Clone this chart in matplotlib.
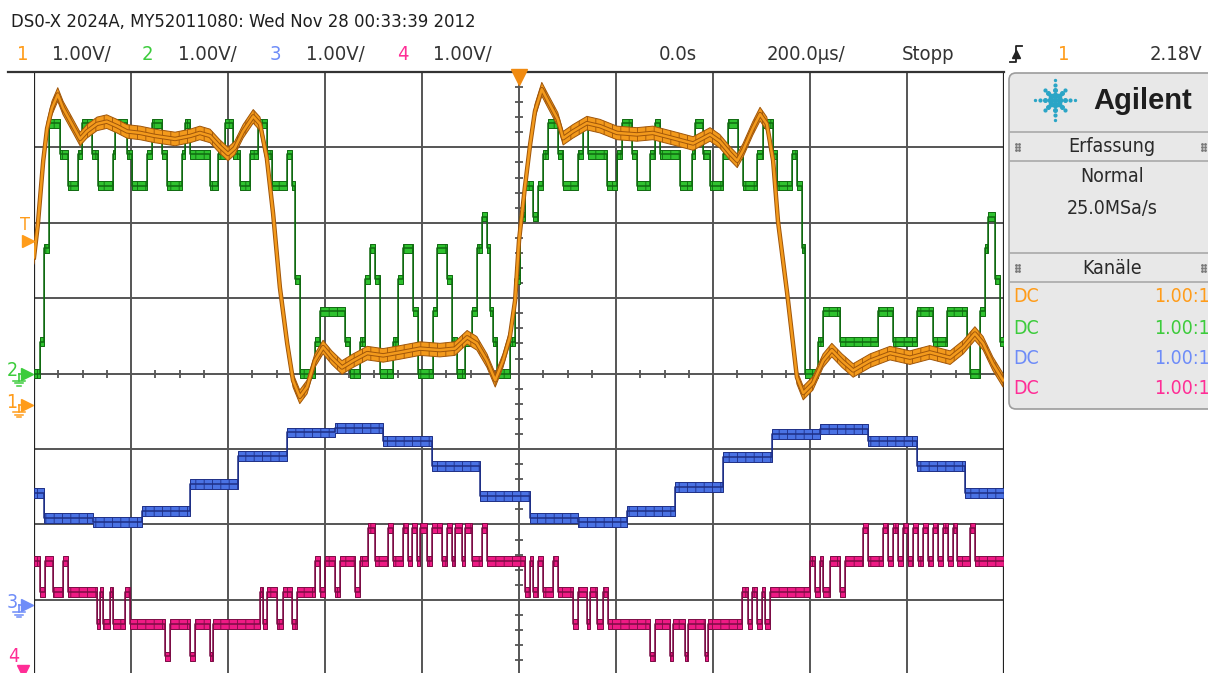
import numpy as np
import matplotlib
matplotlib.use("Agg")
import matplotlib.pyplot as plt
from matplotlib.patches import FancyBboxPatch
import matplotlib.patheffects as pe

W, H = 1208, 673

# ---- captured waveforms: time in us (trigger at 0), amplitude in V ----
# channel 1 (orange), analog
ch1_t = [-1000, -992, -981, -973, -963, -951, -940, -922, -905, -891, -870, -850, -829, -808,
         -781, -751, -709, -678, -658, -637, -617, -600, -586, -569, -548, -534, -520, -507,
         -493, -478, -466, -452, -437, -421, -404, -386, -365, -342, -313, -280, -245, -204,
         -163, -132, -107, -87, -66, -49, -33, -19, -8, 0, 12, 23, 33, 47, 60, 80, 91, 111,
         140, 167, 202, 243, 276, 318, 359, 394, 414, 435, 450, 462, 482, 497, 511, 524, 534,
         553, 573, 586, 606, 627, 645, 666, 689, 724, 765, 806, 847, 889, 916, 940, 957, 977, 998]
ch1_v = [1.96, 2.40, 3.24, 3.67, 3.94, 4.12, 3.94, 3.73, 3.53, 3.63, 3.73, 3.76, 3.70, 3.63,
         3.61, 3.57, 3.53, 3.57, 3.61, 3.57, 3.43, 3.33, 3.41, 3.63, 3.83, 3.73, 3.28, 2.54,
         1.56, 0.82, 0.33, 0.11, 0.24, 0.59, 0.77, 0.63, 0.50, 0.59, 0.69, 0.66, 0.70, 0.75,
         0.73, 0.75, 0.90, 0.82, 0.59, 0.33, 0.59, 0.90, 1.39, 2.18, 2.88, 3.46, 3.90, 4.19,
         4.03, 3.79, 3.54, 3.63, 3.74, 3.70, 3.61, 3.59, 3.61, 3.54, 3.47, 3.59, 3.50, 3.34,
         3.24, 3.38, 3.67, 3.86, 3.73, 3.24, 2.44, 1.48, 0.37, 0.16, 0.29, 0.59, 0.73, 0.59,
         0.46, 0.59, 0.69, 0.63, 0.70, 0.63, 0.77, 0.95, 0.82, 0.55, 0.33]

# channel 2 (green), stepped: time of each change and the new level
ch2_t = [-1000, -988, -979, -969, -946, -930, -909, -901, -880, -868, -837, -833, -808, -798,
         -767, -757, -736, -726, -695, -689, -678, -637, -621, -606, -590, -575, -555, -538,
         -520, -509, -478, -468, -462, -452, -421, -410, -359, -348, -328, -318, -307, -297,
         -287, -260, -249, -239, -219, -208, -177, -169, -148, -138, -128, -111, -97, -87,
         -76, -66, -60, -54, -45, -19, -8, 2, 12, 29, 39, 49, 60, 80, 91, 122, 132, 142, 181,
         202, 212, 233, 243, 270, 280, 291, 332, 357, 363, 379, 394, 421, 431, 452, 462, 491,
         503, 524, 532, 563, 573, 584, 590, 617, 627, 662, 740, 771, 821, 854, 883, 924, 930,
         951, 961, 967, 982, 992]
ch2_v = [0.0, 0.42, 1.66, 3.32, 2.91, 2.49, 2.91, 3.32, 2.91, 2.49, 2.91, 3.32, 2.91, 2.49,
         2.91, 3.32, 2.91, 2.49, 2.91, 3.32, 2.91, 2.49, 2.91, 3.32, 2.91, 2.49, 2.91, 3.32,
         2.91, 2.49, 2.91, 2.49, 1.25, 0.0, 0.42, 0.83, 0.42, 0.0, 0.42, 1.25, 1.66, 1.25,
         0.0, 0.42, 1.25, 1.66, 0.83, 0.0, 0.83, 1.66, 1.25, 0.42, 0.0, 0.42, 0.83, 1.66,
         2.08, 1.66, 0.83, 0.42, 0.0, 0.42, 1.25, 2.08, 2.49, 2.08, 2.49, 2.91, 3.32, 2.91,
         2.49, 2.91, 3.32, 2.91, 2.49, 2.91, 3.32, 2.91, 2.49, 2.91, 3.32, 2.91, 2.49, 2.91,
         3.32, 2.91, 2.49, 2.91, 3.32, 2.91, 2.49, 2.91, 3.32, 2.91, 2.49, 2.91, 2.49, 1.66,
         0.0, 0.42, 0.83, 0.42, 0.83, 0.42, 0.83, 0.42, 0.83, 0.42, 0.0, 0.83, 1.66, 2.08,
         1.25, 0.42]

# channel 3 (blue), staircase
ch3_t = [-1000, -979, -878, -777, -678, -579, -478, -379, -280, -179, -80, 23, 122, 223, 322,
         421, 522, 621, 720, 821, 920]
ch3_v = [1.49, 1.16, 1.10, 1.25, 1.61, 1.98, 2.29, 2.35, 2.18, 1.85, 1.45, 1.16, 1.10, 1.25,
         1.57, 1.96, 2.27, 2.34, 2.18, 1.85, 1.49]

# channel 4 (magenta), stepped
ch4_t = [-1000, -988, -977, -961, -940, -930, -870, -864, -858, -843, -837, -812, -802, -730,
         -720, -678, -668, -637, -631, -534, -528, -520, -499, -487, -468, -458, -421, -410,
         -400, -379, -369, -338, -328, -311, -297, -270, -260, -239, -229, -221, -210, -204,
         -190, -179, -159, -148, -138, -132, -118, -111, -97, -76, -66, 12, 23, 29, 39, 49,
         70, 80, 111, 122, 140, 146, 161, 173, 184, 270, 280, 311, 318, 342, 348, 384, 390,
         460, 472, 480, 491, 501, 507, 518, 600, 610, 621, 627, 641, 662, 672, 709, 720, 751,
         761, 771, 781, 792, 802, 812, 823, 833, 843, 854, 864, 874, 885, 895, 903, 930, 940]
ch4_v = [1.69, 1.27, 1.69, 1.27, 1.69, 1.27, 0.85, 1.27, 0.85, 1.27, 0.85, 1.27, 0.85, 0.42,
         0.85, 0.42, 0.85, 0.42, 0.85, 1.27, 0.85, 1.27, 0.85, 1.27, 0.85, 1.27, 1.69, 1.27,
         1.69, 1.27, 1.69, 1.27, 1.69, 2.12, 1.69, 2.12, 1.69, 2.12, 1.69, 2.12, 1.69, 2.12,
         1.69, 2.12, 1.69, 2.12, 1.69, 2.12, 1.69, 2.12, 1.69, 2.12, 1.69, 1.27, 1.69, 1.27,
         1.69, 1.27, 1.69, 1.27, 0.85, 1.27, 0.85, 1.27, 0.85, 1.27, 0.85, 0.42, 0.85, 0.42,
         0.85, 0.42, 0.85, 0.42, 0.85, 1.27, 0.85, 1.27, 0.85, 1.27, 0.85, 1.27, 1.69, 1.27,
         1.69, 1.27, 1.69, 1.27, 1.69, 2.12, 1.69, 2.12, 1.69, 2.12, 1.69, 2.12, 1.69, 2.12,
         1.69, 2.12, 1.69, 2.12, 1.69, 2.12, 1.69, 2.12, 1.69, 2.12, 1.69]

# scope settings
TIME_DIV = 200.0      # us/div
VOLT_DIV = 1.0        # V/div
TRIG_LEVEL = 2.18     # V on ch1
GND = {1: -0.418, 2: 0.0, 3: -3.07, 4: -4.17}   # ground marker position, divisions

ORANGE, ORANGE_DK = '#f39a1c', '#a0560a'
GREEN, GREEN_DK = '#2fc22f', '#0f6a10'
BLUE, BLUE_DK = '#4a72e4', '#1e2f86'
MAGENTA, MAGENTA_DK = '#ee1a84', '#7c0c45'
TXT = {1: '#ff9c1a', 2: '#3ccc3c', 3: '#6e8cf8', 4: '#ff2d96'}
GRID = '#555555'
FONT = dict(family='DejaVu Sans', fontstretch='condensed')

plt.rcParams['hatch.linewidth'] = 0.6


def to_div(v, ch):
    return np.asarray(v, dtype=float) / VOLT_DIV + GND[ch]


def step_trace(ax, t, v, ch, face, edge, half):
    t = list(t) + [5 * TIME_DIV]
    y = to_div(list(v) + [v[-1]], ch)
    # vertical hatch gives the grainy look of the sampled noise band
    ax.fill_between(t, y - half, y + half, step='post', facecolor=face,
                    edgecolor=edge, linewidth=0.7, hatch='||', zorder=3)
    ax.plot(t, y, drawstyle='steps-post', color=edge, lw=1.1, zorder=3)


fig = plt.figure(figsize=(W / 100, H / 100), dpi=100)
ax = fig.add_axes([34 / W, 0, 970 / W, (H - 72) / H])
ax.set_xlim(-5 * TIME_DIV, 5 * TIME_DIV)
ax.set_ylim(-3.97, 4.0)
ax.axis('off')

# graticule
for k in range(-4, 5):
    ax.axvline(k * TIME_DIV, color=GRID, lw=1.4, zorder=1)
for k in range(-3, 4):
    ax.axhline(k, color=GRID, lw=1.4, zorder=1)
for xb in (-5 * TIME_DIV, 5 * TIME_DIV):
    ax.axvline(xb, color='#222222', lw=1.6, zorder=1)
minor_y = [v for v in np.arange(-3.8, 4.0, 0.2) if abs(v - round(v)) > 0.05]
ax.plot(np.zeros(len(minor_y)), minor_y, ls='none', marker='_', ms=6, mew=1.3,
        color=GRID, zorder=1)
minor_x = [v for v in np.arange(-950, 1000, 50) if v % 200 != 0]
ax.plot(minor_x, np.zeros(len(minor_x)), ls='none', marker='|', ms=6, mew=1.3,
        color=GRID, zorder=1)

# traces
step_trace(ax, ch3_t, ch3_v, 3, BLUE, BLUE_DK, 0.065)
step_trace(ax, ch4_t, ch4_v, 4, MAGENTA, MAGENTA_DK, 0.065)
step_trace(ax, ch2_t, ch2_v, 2, GREEN, GREEN_DK, 0.06)
y1 = to_div(ch1_v, 1)
ax.fill_between(ch1_t, y1 - 0.09, y1 + 0.09, facecolor=ORANGE, edgecolor=ORANGE_DK,
                linewidth=0.7, hatch='||', zorder=4)
ax.plot(ch1_t, y1, color=ORANGE, lw=1.8, zorder=4,
        path_effects=[pe.Stroke(linewidth=3.2, foreground=ORANGE_DK), pe.Normal()])

# ---- overlay in pixel coordinates for the scope's screen furniture ----
ov = fig.add_axes([0, 0, 1, 1], zorder=5)
ov.set_xlim(0, W)
ov.set_ylim(H, 0)
ov.axis('off')
ov.patch.set_alpha(0)


def px_y(div):
    disp = ax.transData.transform((0, div))
    return ov.transData.inverted().transform(disp)[1]


ov.plot([8, 1004], [72, 72], color='#333333', lw=1.6)
ov.plot([519], [77], marker='v', ms=12, color='#f08a10', ls='none')

# header lines
ov.text(11, 22, 'DS0-X 2024A, MY52011080: Wed Nov 28 00:33:39 2012', fontsize=13.2,
        color='#1e1e1e', va='center', ha='left', **FONT)
row2 = [('1', 17, TXT[1]), ('1.00V/', 52, '#333333'), ('2', 142, TXT[2]),
        ('1.00V/', 178, '#333333'), ('3', 270, TXT[3]), ('1.00V/', 306, '#333333'),
        ('4', 397, TXT[4]), ('1.00V/', 433, '#333333'), ('0.0s', 659, '#333333'),
        ('200.0µs/', 767, '#333333'), ('Stopp', 902, '#333333'), ('1', 1058, TXT[1]),
        ('2.18V', 1150, '#333333')]
for s, x, c in row2:
    ov.text(x, 54, s, fontsize=14.5, color=c, va='center', ha='left', **FONT)
# rising-edge trigger icon
ov.plot([1010, 1016, 1016, 1022], [62, 62, 46, 46], color='#222222', lw=1.3)
ov.plot([1016], [54], marker='^', ms=6, color='#222222')

# left-side channel markers


def gnd_marker(label, div, color):
    y = px_y(div)
    ov.plot([27], [y], marker='>', ms=9, color=color, ls='none', clip_on=False)
    ov.plot([19, 25], [y, y], color=color, lw=1.2)
    ov.plot([19, 19], [y, y + 7], color=color, lw=1.2)
    for i, w in enumerate([6, 4, 2]):
        ov.plot([19 - w, 19 + w], [y + 7 + 2.5 * i] * 2, color=color, lw=1.1)
    ov.text(12, y - 3, label, fontsize=14, color=color, ha='center', va='center', **FONT)


gnd_marker('2', GND[2], TXT[2])
gnd_marker('1', GND[1], TXT[1])
gnd_marker('3', GND[3], TXT[3])
ty = px_y(TRIG_LEVEL + GND[1])
ov.plot([28], [ty], marker='>', ms=9, color=TXT[1], ls='none')
ov.text(25, ty - 16, 'T', fontsize=13, color=TXT[1], ha='center', va='center', **FONT)
ov.text(14, 657, '4', fontsize=14, color=TXT[4], ha='center', va='center', **FONT)
ov.plot([23], [671], marker='v', ms=9, color=TXT[4], ls='none')

# ---- side panel ----
ov.add_patch(FancyBboxPatch((1009, 73), 215, 336, boxstyle='round,pad=0,rounding_size=7',
                            facecolor='#e8e8e8', edgecolor='#9c9c9c', lw=1.2))
for yy in (132, 161, 253, 282):
    ov.plot([1010, W], [yy, yy], color='#a4a4a4', lw=1.1)
ov.text(1143, 101, 'Agilent', fontsize=21, fontweight='bold', family='Liberation Sans',
        color='#1e1e1e', ha='center', va='center')

# spark logo
cx, cy = 1055, 100
for ang in range(0, 360, 45):
    a = np.deg2rad(ang)
    reach = [5, 10, 15, 20] if ang % 90 == 0 else [5, 10, 14]
    for i, r in enumerate(reach):
        ov.plot(cx + r * np.cos(a), cy + r * np.sin(a), marker='o', ms=3.2 - 0.6 * i,
                color='#2aa5c6', ls='none')
ov.plot(cx, cy, marker='o', ms=3.5, color='#2aa5c6')

for s, yy in [('Erfassung', 147), ('Normal', 177), ('25.0MSa/s', 208), ('Kanäle', 268)]:
    ov.text(1112, yy, s, fontsize=14, color='#2a2a2a', ha='center', va='center', **FONT)
for yy in (147, 268):
    for xx in (1017, 1203):
        for dx in (-1.5, 1.5):
            for dy in (-3, 0, 3):
                ov.plot(xx + dx, yy + dy, marker='o', ms=1.0, color='#777777')
for ch, yy in zip((1, 2, 3, 4), (297, 328, 358, 389)):
    ov.text(1013, yy, 'DC', fontsize=14, color=TXT[ch], ha='left', va='center', **FONT)
    ov.text(1154, yy, '1.00:1', fontsize=14, color=TXT[ch], ha='left', va='center', **FONT)

fig.savefig('out.png', dpi=100, facecolor='white')
